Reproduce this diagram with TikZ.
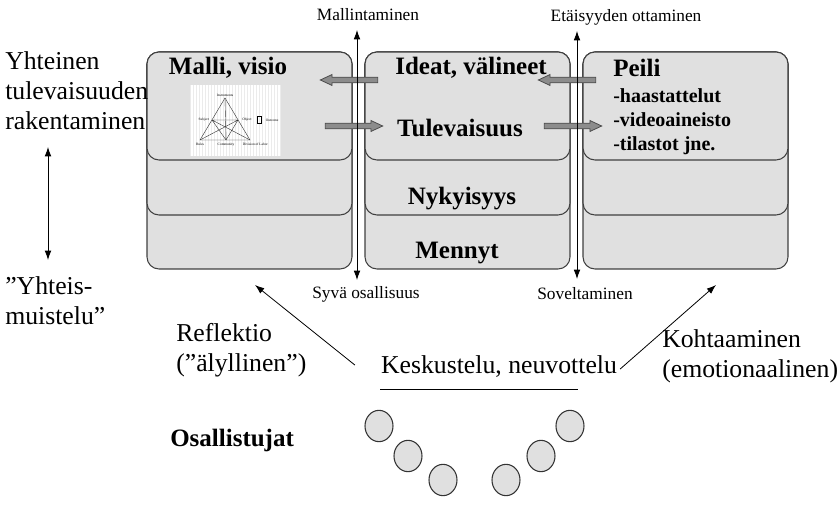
\documentclass[tikz,border=0pt]{standalone}
\usepackage{fontspec}
\setmainfont{Liberation Serif}
\usetikzlibrary{arrows.meta,positioning,shapes.arrows,shapes.geometric}

\begin{document}
\begin{tikzpicture}[
    x=0.75pt, y=-0.75pt,
    every node/.style={inner sep=0pt},
    layer/.style={draw=black!75, fill=black!12, line width=0.8pt, rounded corners=9pt},
    title/.style={font=\fontsize{18.75}{21}\selectfont\bfseries},
    item/.style={font=\fontsize{15}{18}\selectfont\bfseries, anchor=west},
    side/.style={font=\fontsize{19.3}{22.5}\selectfont, align=left},
    axis/.style={font=\fontsize{13}{15}\selectfont},
    tinylbl/.style={font=\fontsize{2.6}{3}\selectfont},
    twoway/.style={{Latex[length=7pt,width=5pt]}-{Latex[length=7pt,width=5pt]}, line width=0.6pt},
    oneway/.style={-{Latex[length=7pt,width=5pt]}, line width=0.6pt},
    blockarr/.style={single arrow, draw=black!70, fill=black!45, line width=0.6pt,
                     inner xsep=0pt, inner ysep=1.8pt, single arrow head extend=2pt,
                     single arrow tip angle=50, minimum height=43pt},
    person/.style={ellipse, draw=black!80, fill=black!12, line width=0.8pt,
                   minimum width=21pt, minimum height=23.5pt},
]
\useasboundingbox (0,0) rectangle (840,513);

% three columns, each with three stacked layers
\foreach \cx in {147,365,583} {
  \draw[layer] (\cx,52) rectangle ++(205,217);
  \draw[layer] (\cx,52) rectangle ++(205,163);
  \draw[layer] (\cx,52) rectangle ++(205,108);
}

% small activity triangle picture
\begin{scope}[shift={(190,85)}]
  \fill[white] (0,0) rectangle (90,71);
  \draw[step=3, black!8, line width=0.2pt] (0,0) grid (90,71);
  \coordinate (aI) at (35,13);
  \coordinate (aS) at (22,35);
  \coordinate (aO) at (48,35);
  \coordinate (aR) at (10,55);
  \coordinate (aC) at (36,55);
  \coordinate (aD) at (60,55);
  \draw[line width=0.3pt, black!80] (aI) -- (aR) -- (aD) -- cycle;
  \draw[line width=0.3pt, black!80] (aS) -- (aO) (aI) -- (aC) (aS) -- (aD) (aO) -- (aR)
        (aS) -- (aC) (aO) -- (aC);
  \node[tinylbl, above=1pt of aI] (ins) {Instruments};
  \node[tinylbl, left=2pt of aS] (sub) {Subject};
  \node[tinylbl, right=3pt of aO] (obj) {Object};
  \node[draw, line width=0.3pt, minimum width=3pt, minimum height=5pt, right=4pt of obj] (outbox) {};
  \node[tinylbl, right=3pt of outbox] (outc) {Outcome};
  \node[tinylbl, below=2pt of aR] (rul) {Rules};
  \node[tinylbl, below=2pt of aC] (com) {Community};
  \node[tinylbl, below=2pt of aD, xshift=4pt] (div) {Division of Labor};
\end{scope}

% block arrows between the columns
\node[blockarr, shape border rotate=180] (ba1) at (352,80) {};
\node[blockarr] (ba2) at (351,126) {};
\node[blockarr, shape border rotate=180] (ba3) at (570,80) {};
\node[blockarr] (ba4) at (570,126) {};

% column texts
\node[title] (malli) at (228,68) {Malli, visio};
\node[title] (ideat) at (471,68) {Ideat, välineet};
\node[title] (tulev) at (460,128) {Tulevaisuus};
\node[title] (nyky) at (462,199) {Nykyisyys};
\node[title] (menn) at (457,253) {Mennyt};
\node[title, anchor=west] (peili) at (613,68) {Peili};
\node[item] (haast) at (613,96) {-haastattelut};
\node[item] (video) at (613,120) {-videoaineisto};
\node[item] (tilas) at (613,146) {-tilastot jne.};

% axes between the columns
\node[axis] (mall) at (368,15) {Mallintaminen};
\node[axis] (syva) at (366,294) {Syvä osallisuus};
\node[axis] (etai) at (626,17) {Etäisyyden ottaminen};
\node[axis] (sove) at (585,294) {Soveltaminen};
\coordinate (ltop) at (357,30);
\coordinate (lbot) at (357,280);
\coordinate (rtop) at (577,31);
\coordinate (rbot) at (577,279);
\draw[twoway] (ltop) -- (lbot);
\draw[twoway] (rtop) -- (rbot);

% left side texts
\node[side, anchor=north west] (yht) at (5,51) {Yhteinen\\tulevaisuuden\\rakentaminen};
\node[side, anchor=north west] (muist) at (5,276) {”Yhteis-\\muistelu”};
\coordinate (ytop) at (48,147);
\coordinate (ybot) at (48,260);
\draw[twoway] (ytop) -- (ybot);

% discussion and its two directions
\node[side] (kesk) at (499,367) {Keskustelu, neuvottelu};
\draw[line width=0.7pt] (380,389) -- (578,389);
\node[side, anchor=north west] (refl) at (176,323) {Reflektio\\(”älyllinen”)};
\node[side, anchor=north west] (koht) at (662,329) {Kohtaaminen\\(emotionaalinen)};
\coordinate (refltip) at (255,285);
\coordinate (kohttip) at (716,285);
\draw[oneway] ([shift={(-26,-2)}]kesk.west) -- (refltip);
\draw[oneway] ([shift={(3,2)}]kesk.east) -- (kohttip);

% participants
\node[title, anchor=west] (osal) at (170,440) {Osallistujat};
\foreach \px/\py [count=\i] in {379/426, 408/456, 443/480, 506/480, 541/456, 570/426}
  \node[person] (p\i) at (\px,\py) {};
\end{tikzpicture}
\end{document}
